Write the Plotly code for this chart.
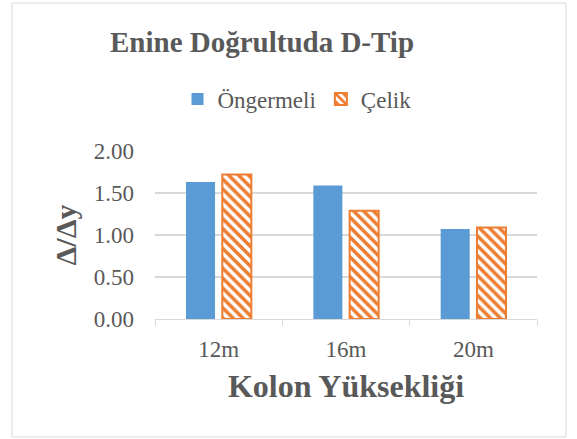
import plotly.graph_objects as go

# Column heights and the Δ/Δy ratio for each system
categories = ["12m", "16m", "20m"]
ongermeli = [1.63, 1.59, 1.07]
celik = [1.72, 1.29, 1.09]
series_names = ["Öngermeli", "Çelik"]
y_ticks = [0.0, 0.5, 1.0, 1.5, 2.0]
y_tick_text = ["0.00", "0.50", "1.00", "1.50", "2.00"]

BLUE = "#5B9BD5"
ORANGE = "#ED7D31"
TEXT = "#595959"
GRID = "#D9D9D9"
FONT = "Liberation Serif"


def serif(s):
    return f"<span style='font-family:\"Liberation Serif\", serif'>{s}</span>"


fig = go.Figure()
fig.add_trace(go.Bar(
    x=categories, y=ongermeli, name=serif(series_names[0]),
    marker=dict(color=BLUE, line=dict(width=0)),
))
fig.add_trace(go.Bar(
    x=categories, y=celik, name=serif(series_names[1]),
    marker=dict(
        color="white",
        line=dict(color=ORANGE, width=2),
        pattern=dict(shape="\\", fgcolor=ORANGE, bgcolor="white",
                     size=7, solidity=0.5, fillmode="replace"),
    ),
))

# plot area in pixels: x 155..537, y 151..319
L, R, T, B = 155, 40, 151, 120
W, H = 577, 439
pw, ph = W - L - R, H - T - B

def px_x(x):
    return (x - L) / pw

def px_y(y):
    return (H - B - y) / ph

fig.update_layout(
    width=W, height=H,
    margin=dict(l=L, r=R, t=T, b=B),
    paper_bgcolor="white", plot_bgcolor="white",
    font=dict(family=FONT, color=TEXT),
    barmode="group", bargap=0.43, bargroupgap=0.2,
    title=dict(text="<b>Enine Doğrultuda D-Tip</b>",
               font=dict(size=29, color=TEXT, family=FONT),
               x=262 / W, xref="container", xanchor="center",
               y=1 - 42 / H, yref="container", yanchor="middle"),
    legend=dict(orientation="h", x=px_x(297), xanchor="center",
                y=px_y(99), yanchor="middle",
                font=dict(size=23, color=TEXT, family=FONT),
                itemwidth=30, traceorder="normal", bgcolor="rgba(0,0,0,0)"),
    xaxis=dict(
        showline=True, linecolor=GRID, linewidth=1,
        ticks="outside", tickson="boundaries", ticklen=6, tickcolor=GRID,
        tickfont=dict(size=23, color=TEXT, family=FONT),
        ticklabelstandoff=9,
        title=dict(text="<b>Kolon Yüksekliği</b>",
                   font=dict(size=32, color=TEXT, family=FONT), standoff=14),
    ),
    yaxis=dict(
        range=[0, 2], tickvals=y_ticks, ticktext=y_tick_text,
        showgrid=True, gridcolor=GRID, gridwidth=1.5, zeroline=False,
        showline=False,
        tickfont=dict(size=23, color=TEXT, family=FONT),
        ticklabelstandoff=20,
        title=dict(text="<b>Δ/Δy</b>",
                   font=dict(size=30, color=TEXT, family=FONT), standoff=8),
    ),
    shapes=[dict(type="rect", xref="paper", yref="paper",
                 x0=px_x(12), x1=px_x(566), y0=px_y(437), y1=px_y(3),
                 line=dict(color=GRID, width=1), fillcolor="rgba(0,0,0,0)",
                 layer="below")],
)

fig.write_html("out.html")
